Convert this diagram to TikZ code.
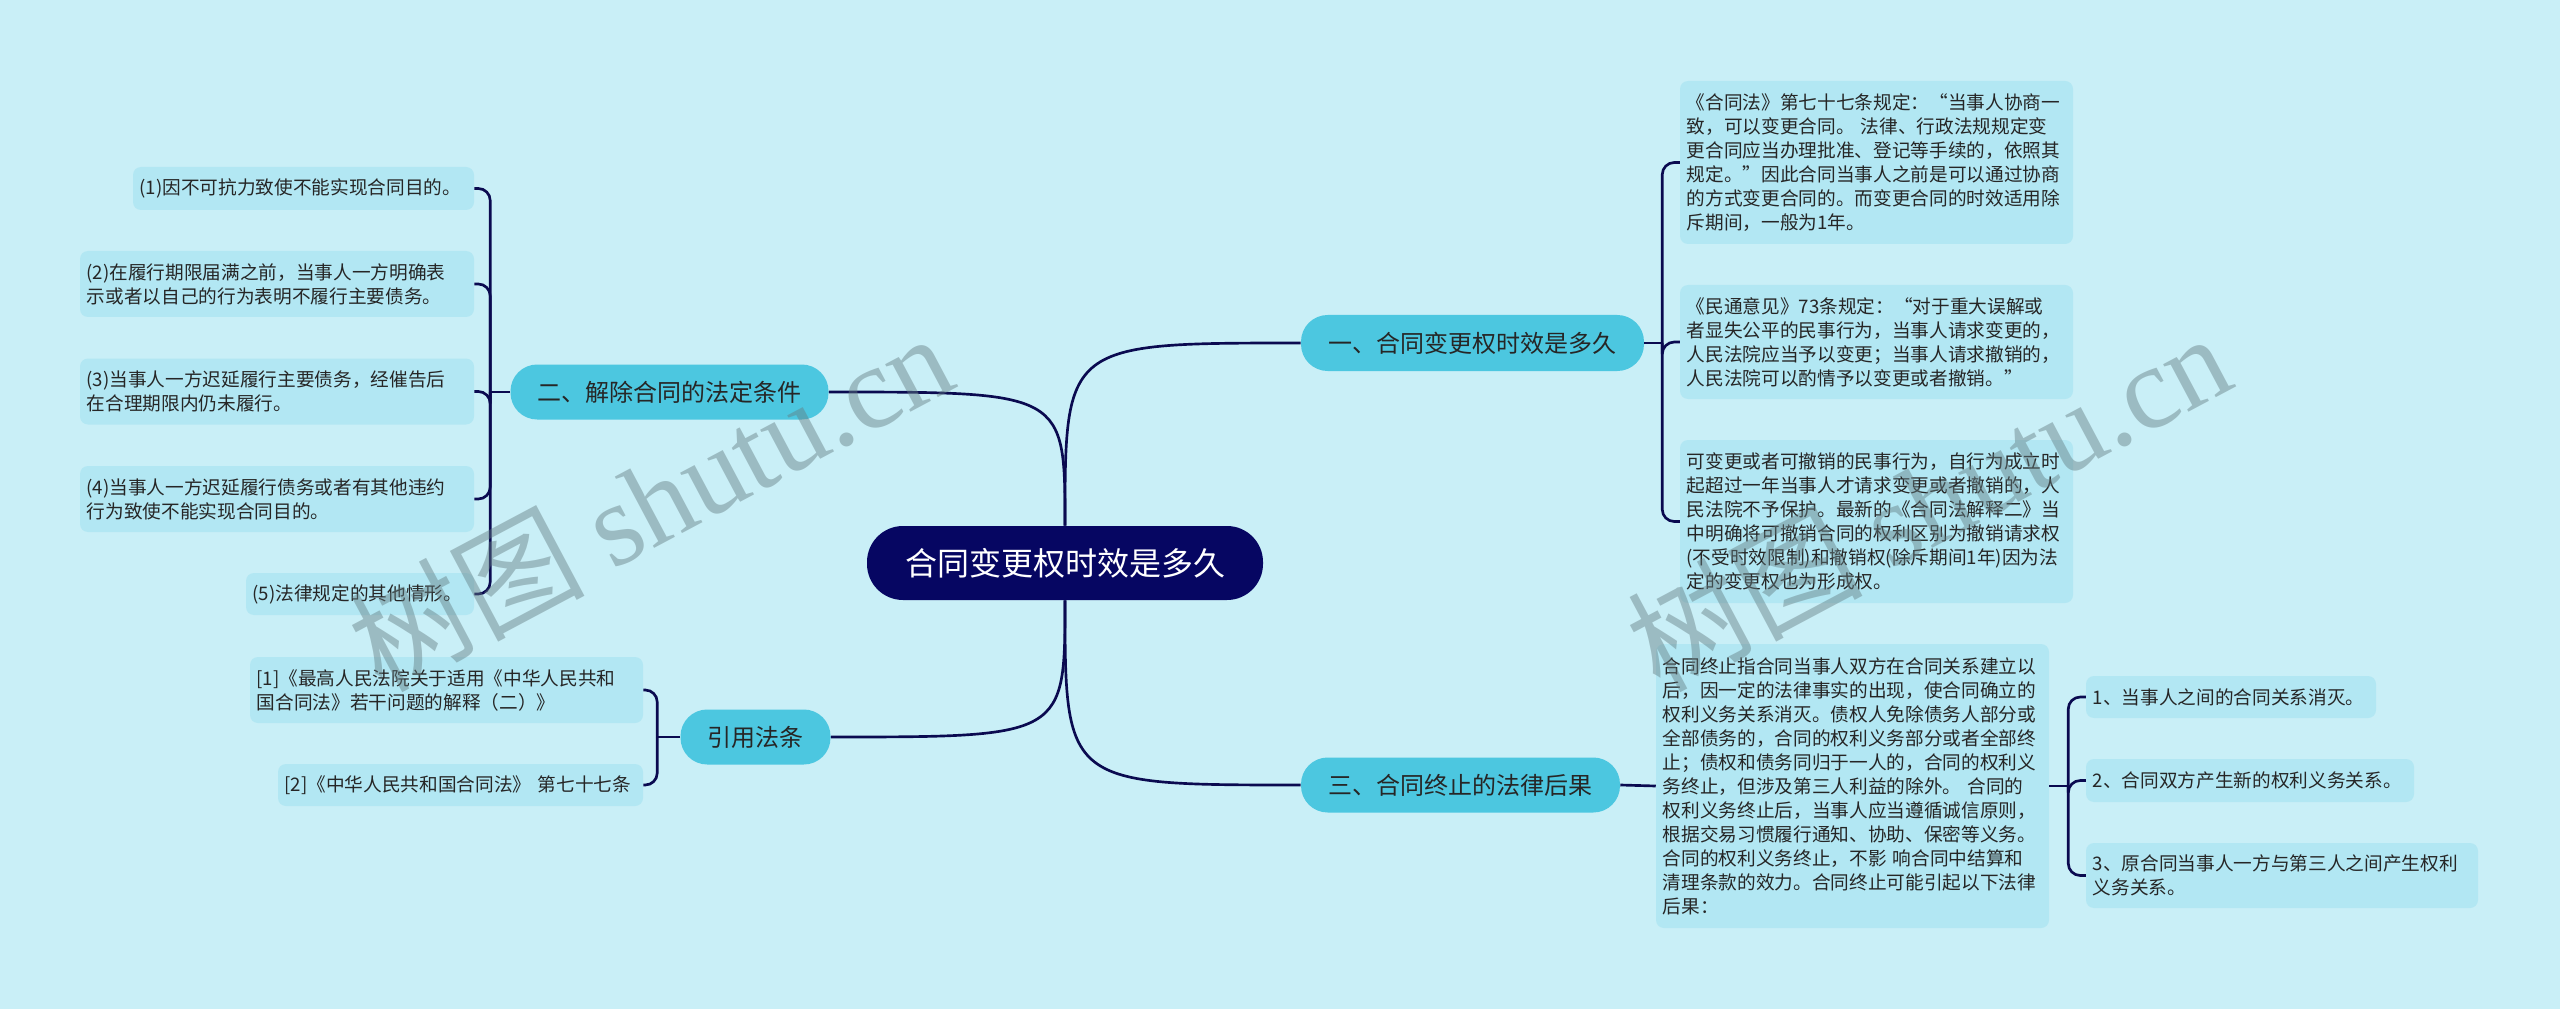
\documentclass[tikz,border=0pt]{standalone}
\usepackage{fontspec}
\setmainfont{Noto Sans CJK SC}
\newfontfamily\wmserif{Liberation Serif}
\definecolor{bg}{RGB}{201,239,247}
\definecolor{leaf}{RGB}{178,231,243}
\definecolor{branch}{RGB}{76,199,224}
\definecolor{rootc}{RGB}{6,6,98}
\definecolor{linec}{RGB}{10,10,80}
\definecolor{wmc}{RGB}{100,125,130}
\begin{document}
\begin{tikzpicture}[x=0.75pt,y=-0.75pt,
  conn/.style={draw=linec, line width=2pt},
  bracket/.style={conn, rounded corners=9pt},
  leafbox/.style={fill=leaf, rounded corners=6pt, align=left, inner xsep=5pt, inner ysep=0pt,
    font=\fontsize{14pt}{18pt}\selectfont, text=black!85},
  branchbox/.style={fill=branch, rounded corners=20pt, inner sep=0pt,
    font=\fontsize{18pt}{22pt}\selectfont, text=black!85},
  rootbox/.style={fill=rootc, rounded corners=27pt, inner sep=0pt,
    font=\fontsize{24pt}{28pt}\selectfont, text=white},
  wmark/.style={text=wmc, text opacity=0.45, inner sep=0pt,
    font=\fontsize{88pt}{90pt}\selectfont},
]
\useasboundingbox (0,0) rectangle (2560,1009);
\fill[bg] (0,0) rectangle (2560,1009);

% root and branches
\node[rootbox, minimum width=297pt, minimum height=55.5pt] (root) at (1065,563) {合同变更权时效是多久};
\node[branchbox, minimum width=257.25pt, minimum height=42pt] (b1) at (1472.5,343) {一、合同变更权时效是多久};
\node[branchbox, minimum width=238.5pt, minimum height=41.25pt] (b2) at (669.5,392) {二、解除合同的法定条件};
\node[branchbox, minimum width=239.25pt, minimum height=41.25pt] (b3) at (1460.5,785) {三、合同终止的法律后果};
\node[branchbox, minimum width=112.5pt, minimum height=41.25pt] (b4) at (755.5,737) {引用法条};

% left leaves
\node[leafbox, text width=245.75pt, minimum height=32.25pt] (l1) at (303.5,188.5) {(1)因不可抗力致使不能实现合同目的。};
\node[leafbox, text width=285.5pt, minimum height=49.5pt] (l2) at (277,284) {(2)在履行期限届满之前，当事人一方明确表\\示或者以自己的行为表明不履行主要债务。};
\node[leafbox, text width=285.5pt, minimum height=49.5pt] (l3) at (277,391.5) {(3)当事人一方迟延履行主要债务，经催告后\\在合理期限内仍未履行。};
\node[leafbox, text width=285.5pt, minimum height=49.5pt] (l4) at (277,499) {(4)当事人一方迟延履行债务或者有其他违约\\行为致使不能实现合同目的。};
\node[leafbox, text width=161pt, minimum height=31.5pt] (l5) at (360,594) {(5)法律规定的其他情形。};

\node[leafbox, text width=284.75pt, minimum height=49.5pt] (r1) at (446.5,690) {[1]《最高人民法院关于适用《中华人民共和\\国合同法》若干问题的解释（二）》};
\node[leafbox, text width=263.75pt, minimum height=31.5pt] (r2) at (460.5,785) {[2]《中华人民共和国合同法》 第七十七条};

% right leaves
\node[leafbox, text width=284.75pt, minimum height=122.25pt] (c1) at (1876.5,162.5) {《合同法》第七十七条规定：“当事人协商一\\致，可以变更合同。 法律、行政法规规定变\\更合同应当办理批准、登记等手续的，依照其\\规定。”因此合同当事人之前是可以通过协商\\的方式变更合同的。而变更合同的时效适用除\\斥期间，一般为1年。};
\node[leafbox, text width=284.75pt, minimum height=85.5pt] (c2) at (1876.5,342) {《民通意见》73条规定：“对于重大误解或\\者显失公平的民事行为，当事人请求变更的，\\人民法院应当予以变更；当事人请求撤销的，\\人民法院可以酌情予以变更或者撤销。”};
\node[leafbox, text width=284.75pt, minimum height=122.25pt] (c3) at (1876.5,521.5) {可变更或者可撤销的民事行为，自行为成立时\\起超过一年当事人才请求变更或者撤销的，人\\民法院不予保护。最新的《合同法解释二》当\\中明确将可撤销合同的权利区别为撤销请求权\\(不受时效限制)和撤销权(除斥期间1年)因为法\\定的变更权也为形成权。};

\node[leafbox, text width=284.75pt, minimum height=213pt] (d) at (1852.5,786) {合同终止指合同当事人双方在合同关系建立以\\后，因一定的法律事实的出现，使合同确立的\\权利义务关系消灭。债权人免除债务人部分或\\全部债务的，合同的权利义务部分或者全部终\\止；债权和债务同归于一人的，合同的权利义\\务终止，但涉及第三人利益的除外。 合同的\\权利义务终止后，当事人应当遵循诚信原则，\\根据交易习惯履行通知、协助、保密等义务。\\合同的权利义务终止，不影 响合同中结算和\\清理条款的效力。合同终止可能引起以下法律\\后果：};

\node[leafbox, text width=207.5pt, minimum height=31.5pt] (e1) at (2231,697) {1、当事人之间的合同关系消灭。};
\node[leafbox, text width=236pt, minimum height=32.25pt] (e2) at (2250,780.5) {2、合同双方产生新的权利义务关系。};
\node[leafbox, text width=284pt, minimum height=48.75pt] (e3) at (2282,875.5) {3、原合同当事人一方与第三人之间产生权利\\义务关系。};

% root connectors
\draw[conn] (root.north) .. controls (1065,343) .. (b1.west);
\draw[conn] (root.north) .. controls (1065,392) .. (b2.east);
\draw[conn] (root.south) .. controls (1065,785) .. (b3.west);
\draw[conn] (root.south) .. controls (1065,737) .. (b4.east);

% brackets
\draw[conn] (b2.west) -- ++(-20,0) coordinate (j2);
\foreach \n in {l1,l2,l3,l4,l5} \draw[bracket] (j2) |- (\n.east);
\draw[conn] (b4.west) -- ++(-23,0) coordinate (j4);
\foreach \n in {r1,r2} \draw[bracket] (j4) |- (\n.east);
\draw[conn] (b1.east) -- ++(18,0) coordinate (j1);
\foreach \n in {c1,c2,c3} \draw[bracket] (j1) |- (\n.west);
\draw[conn] (b3.east) -- (d.west);
\draw[conn] (d.east) -- ++(19,0) coordinate (jd);
\foreach \n in {e1,e2,e3} \draw[bracket] (jd) |- (\n.west);

% watermarks
\node[wmark, rotate=28] (wm1) at (650,500) {树图 {\wmserif shutu.cn}};
\node[wmark, rotate=28] (wm2) at (1928,500) {树图 {\wmserif shutu.cn}};
\end{tikzpicture}
\end{document}
